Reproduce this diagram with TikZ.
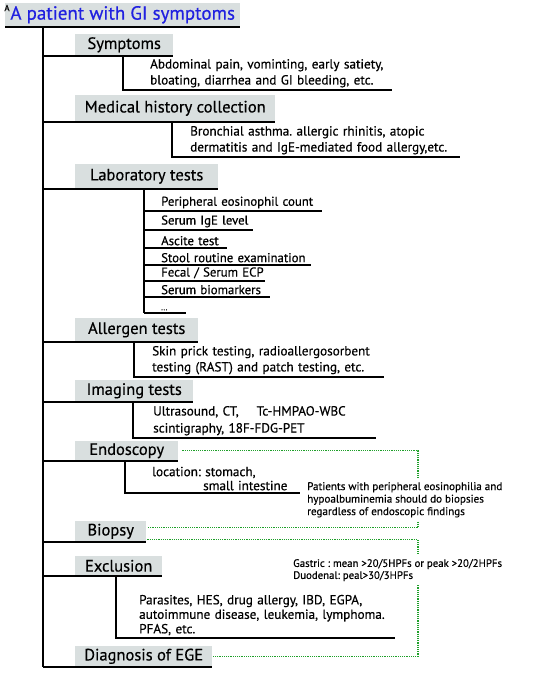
\documentclass[tikz,border=0pt]{standalone}
\usepackage{fontspec}
\setmainfont{PT Sans}[FakeBold=0.5]
\usetikzlibrary{positioning,calc}
\definecolor{EgeGray}{HTML}{D9DFDF}
\definecolor{EgeBlue}{HTML}{2020E0}
\definecolor{EgeGreen}{HTML}{1FA02A}
\frenchspacing

\begin{document}
\begin{tikzpicture}[
  x=1pt,
  y=-1pt,
  rule/.style={line width=1.5pt},
  link/.style={EgeGreen, dash pattern=on 1.2pt off 1pt, line width=1.3pt},
  head/.style={fill=EgeGray, anchor=south west, minimum height=22pt, inner sep=0pt, font=\fontsize{16.5}{19}\selectfont},
  detail/.style={anchor=south west, inner xsep=0pt, inner ysep=2.5pt, align=left, font=\fontsize{13.2}{16}\selectfont},
  item/.style={anchor=south west, inner xsep=0pt, inner ysep=2.5pt, align=left, font=\fontsize{12.8}{14}\selectfont},
  note/.style={anchor=north west, inner xsep=0pt, inner ysep=4pt, align=left, font=\fontsize{11.1}{12.5}\selectfont}
]
\useasboundingbox (0,0) rectangle (535,676);

% title and trunk
\node[head, minimum width=235pt, minimum height=24pt, text=EgeBlue, font=\fontsize{19}{21}\selectfont] (title) at (5,27) {A patient with GI symptoms};
\node[inner sep=0pt, font=\fontsize{9}{9}\selectfont] (panel) at (7,8) {A};
\draw[rule] (title.south west) -- (title.south east);
\coordinate (trunk) at (43,27);

% headings
\node[head, minimum width=98pt] (symh) at (75,56) {Symptoms};
\node[head, minimum width=200pt, minimum height=27pt] (medh) at (75,122) {Medical history collection};
\node[head, minimum width=143pt, minimum height=25pt] (labh) at (75,189) {Laboratory tests};
\node[head, minimum width=123pt, minimum height=24pt] (allh) at (75,342) {Allergen tests};
\node[head, minimum width=118pt] (imgh) at (75,402) {Imaging tests};
\node[head, minimum width=103pt, minimum height=20pt] (endh) at (75,461) {Endoscopy};
\node[head, minimum width=71pt, minimum height=21pt] (bioh) at (75,542) {Biopsy};
\node[head, minimum width=87pt, minimum height=20pt] (exch) at (75,576) {Exclusion};
\node[head, minimum width=137pt, minimum height=21pt] (diah) at (75,667) {Diagnosis of EGE};

\draw[rule] (trunk) -- (trunk |- diah.south);
\foreach \h in {symh,medh,labh,allh,imgh,endh,bioh,exch,diah}
  \draw[rule] (trunk |- \h.south) -- (\h.south east);

% symptoms
\node[detail, text width=242pt] (symd) at (150,90) {Abdominal pain, vominting, early satiety,\\bloating, diarrhea and GI bleeding, etc.};
\draw[rule] ([xshift=-27pt]symd.south west |- symh.south) |- (symd.south east);

% medical history
\node[detail, text width=270pt] (medd) at (190,157) {Bronchial asthma. allergic rhinitis, atopic\\dermatitis and IgE-mediated food allergy,etc.};
\draw[rule] ([xshift=-18pt]medd.south west |- medh.south) |- (medd.south east);

% laboratory tests
\node[item, text width=161pt] (lab1) at (161,211) {Peripheral eosinophil count};
\node[item, text width=92pt] (lab2) at (161,230) {Serum IgE level};
\node[item, text width=66pt] (lab3) at (161,248) {Ascite test};
\node[item, text width=150pt] (lab4) at (161,265) {Stool routine examination};
\node[item, text width=104pt] (lab5) at (161,281) {Fecal / Serum ECP};
\node[item, text width=109pt] (lab6) at (161,297) {Serum biomarkers};
\node[item, text width=25pt, font=\fontsize{8}{10}\selectfont] (lab7) at (161,313) {...};
\draw[rule] ([xshift=-17pt]lab1.south west |- labh.south) -- ([xshift=-17pt]lab7.south west);
\draw[rule] ([xshift=-17pt]lab1.south west) -- (lab1.south east);
\draw[rule] ([xshift=-17pt]lab2.south west) -- (lab2.south east);
\draw[rule] ([xshift=-17pt]lab3.south west) -- (lab3.south east);
\draw[rule] ([xshift=-17pt]lab4.south west) -- (lab4.south east);
\draw[rule] ([xshift=-17pt]lab5.south west) -- (lab5.south east);
\draw[rule] ([xshift=-17pt]lab6.south west) -- (lab6.south east);
\draw[rule] ([xshift=-17pt]lab7.south west) -- (lab7.south east);

% allergen tests
\node[detail, text width=232pt] (alld) at (152,377) {Skin prick testing, radioallergosorbent\\testing (RAST) and patch testing, etc.};
\draw[rule] ([xshift=-18pt]alld.south west |- allh.south) |- (alld.south east);

% imaging tests
\node[detail, text width=223pt, font=\fontsize{13.2}{17}\selectfont] (imgd) at (153,438) {Ultrasound, CT,\hspace{18pt}Tc-HMPAO-WBC\\scintigraphy, 18F-FDG-PET};
\draw[rule] ([xshift=-20pt]imgd.south west |- imgh.south) |- (imgd.south east);

% endoscopy
\node[detail, text width=148pt, font=\fontsize{13.2}{14}\selectfont] (endd) at (152,493) {location: stomach,\\\hspace*{51pt}small intestine};
\draw[rule] ([xshift=-27pt]endd.south west |- endh.south) |- (endd.south east);

% exclusion
\node[detail, text width=256pt, font=\fontsize{13.2}{14.5}\selectfont] (excd) at (139,638) {Parasites, HES, drug allergy, IBD, EGPA,\\autoimmune disease, leukemia, lymphoma.\\PFAS, etc.};
\draw[rule] ([xshift=-23pt]excd.south west |- exch.south) |- (excd.south east);

% dotted links
\coordinate (gx) at (418,451);
\node[note] (note1) at (307,478) {Patients with peripheral eosinophilia and\\hypoalbuminemia should do biopsies\\regardless of endoscopic findings};
\node[note, font=\fontsize{10.8}{12}\selectfont] (note2) at (293,555) {Gastric : mean >20/5HPFs or peak >20/2HPFs\\Duodenal: peal>30/3HPFs};
\draw[link] ([xshift=4pt]endh.east) -| (gx |- note1.north);
\draw[link] (gx |- note1.south) |- ([xshift=1pt,yshift=3.5pt]bioh.east);
\draw[link] ([xshift=1pt,yshift=-8.5pt]bioh.east) -| (gx |- note2.north);
\draw[link] (gx |- note2.south) |- ([xshift=1pt]diah.east);
\end{tikzpicture}
\end{document}
